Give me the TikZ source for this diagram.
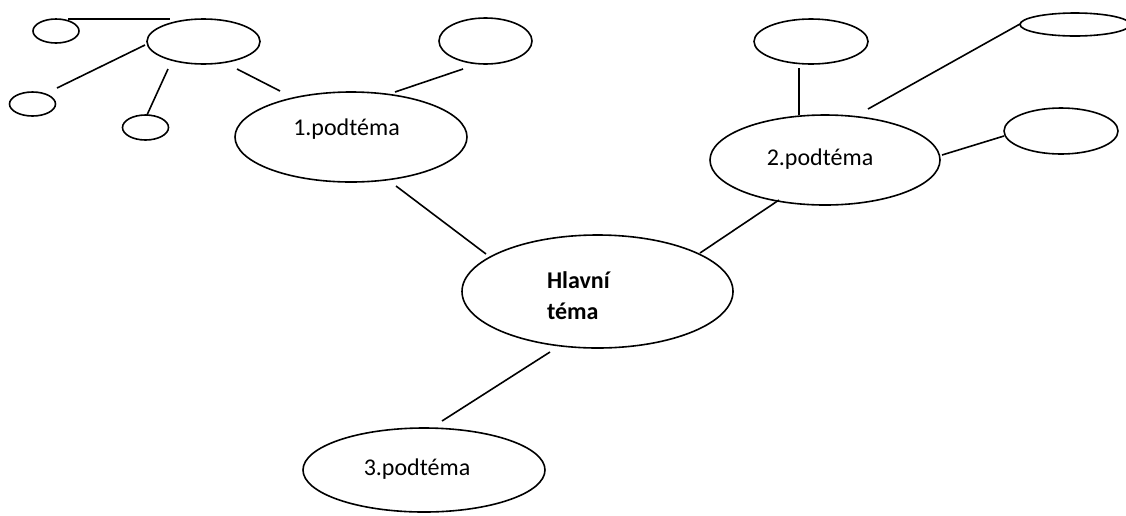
\documentclass[tikz,border=0pt]{standalone}
\usepackage{fontspec}
\setmainfont{Carlito}
\usetikzlibrary{shapes.geometric}
\tikzset{
  ov/.style={draw, ellipse, inner sep=0pt, outer sep=0pt, line width=1.6pt},
  ln/.style={line width=1.6pt},
  lbl/.style={inner sep=0pt, outer sep=0pt, font=\fontsize{24}{31}\selectfont, text=black}
}
\begin{document}
\begin{tikzpicture}[x=1pt, y=-1pt]
\useasboundingbox (0,0) rectangle (1126,515);
\clip (0,0) rectangle (1126,515);
\fill[white] (0,0) rectangle (1126,515);
% ellipses
\node[ov, minimum width=271pt, minimum height=113pt] (main) at (597.5,291.5) {};
\node[ov, minimum width=232pt, minimum height=90pt] (n1) at (351,137) {};
\node[ov, minimum width=230pt, minimum height=90pt] (n2) at (825,160) {};
\node[ov, minimum width=242pt, minimum height=84pt] (n3) at (424,470) {};
\node[ov, minimum width=113pt, minimum height=45pt] (a) at (203.5,41.5) {};
\node[ov, minimum width=46pt, minimum height=24pt] (a1) at (56,31) {};
\node[ov, minimum width=46pt, minimum height=24pt] (a2) at (32.5,104) {};
\node[ov, minimum width=46pt, minimum height=25pt] (a3) at (145.5,127.5) {};
\node[ov, minimum width=93pt, minimum height=46pt] (b) at (485.5,41) {};
\node[ov, minimum width=114pt, minimum height=45pt] (c1) at (811,41.5) {};
\node[ov, minimum width=110pt, minimum height=23pt] (c2) at (1075,24.5) {};
\node[ov, minimum width=114pt, minimum height=46pt] (c3) at (1061,131) {};
% texts
\node[lbl, anchor=base] (t1) at (346.5,135) {1.podtéma};
\node[lbl, anchor=base] (t2) at (820,165) {2.podtéma};
\node[lbl, anchor=base] (t3) at (417,475) {3.podtéma};
\node[lbl, anchor=base west, align=left, font=\fontsize{24}{31}\selectfont\bfseries] (tm) at (547,319) {Hlavní\\téma};
% connectors
\draw[ln] ([shift={(12,-12)}]a1.center) -- ([shift={(-33.5,-22.5)}]a.center);
\draw[ln] ([shift={(-58.5,3.5)}]a.center) -- ([shift={(24.5,-16)}]a2.center);
\draw[ln] ([shift={(-35.5,27.5)}]a.center) -- ([shift={(1.5,-12.5)}]a3.center);
\draw[ln] ([shift={(33.5,27.5)}]a.center) -- ([shift={(-71,-46)}]n1.center);
\draw[ln] ([shift={(44,-45)}]n1.center) -- ([shift={(-22.5,28)}]b.center);
\draw[ln] ([shift={(45,49)}]n1.center) -- ([shift={(-111.5,-37.5)}]main.center);
\draw[ln] ([shift={(102.5,-38.5)}]main.center) -- ([shift={(-46,40)}]n2.center);
\draw[ln] ([shift={(-47.5,60.5)}]main.center) -- ([shift={(18,-49)}]n3.center);
\draw[ln] ([shift={(-12,26.5)}]c1.center) -- ([shift={(-26,-45)}]n2.center);
\draw[ln] ([shift={(43,-51)}]n2.center) -- ([shift={(-55,-0.5)}]c2.center);
\draw[ln] ([shift={(117,-5)}]n2.center) -- ([shift={(-57,5)}]c3.center);
\end{tikzpicture}
\end{document}
